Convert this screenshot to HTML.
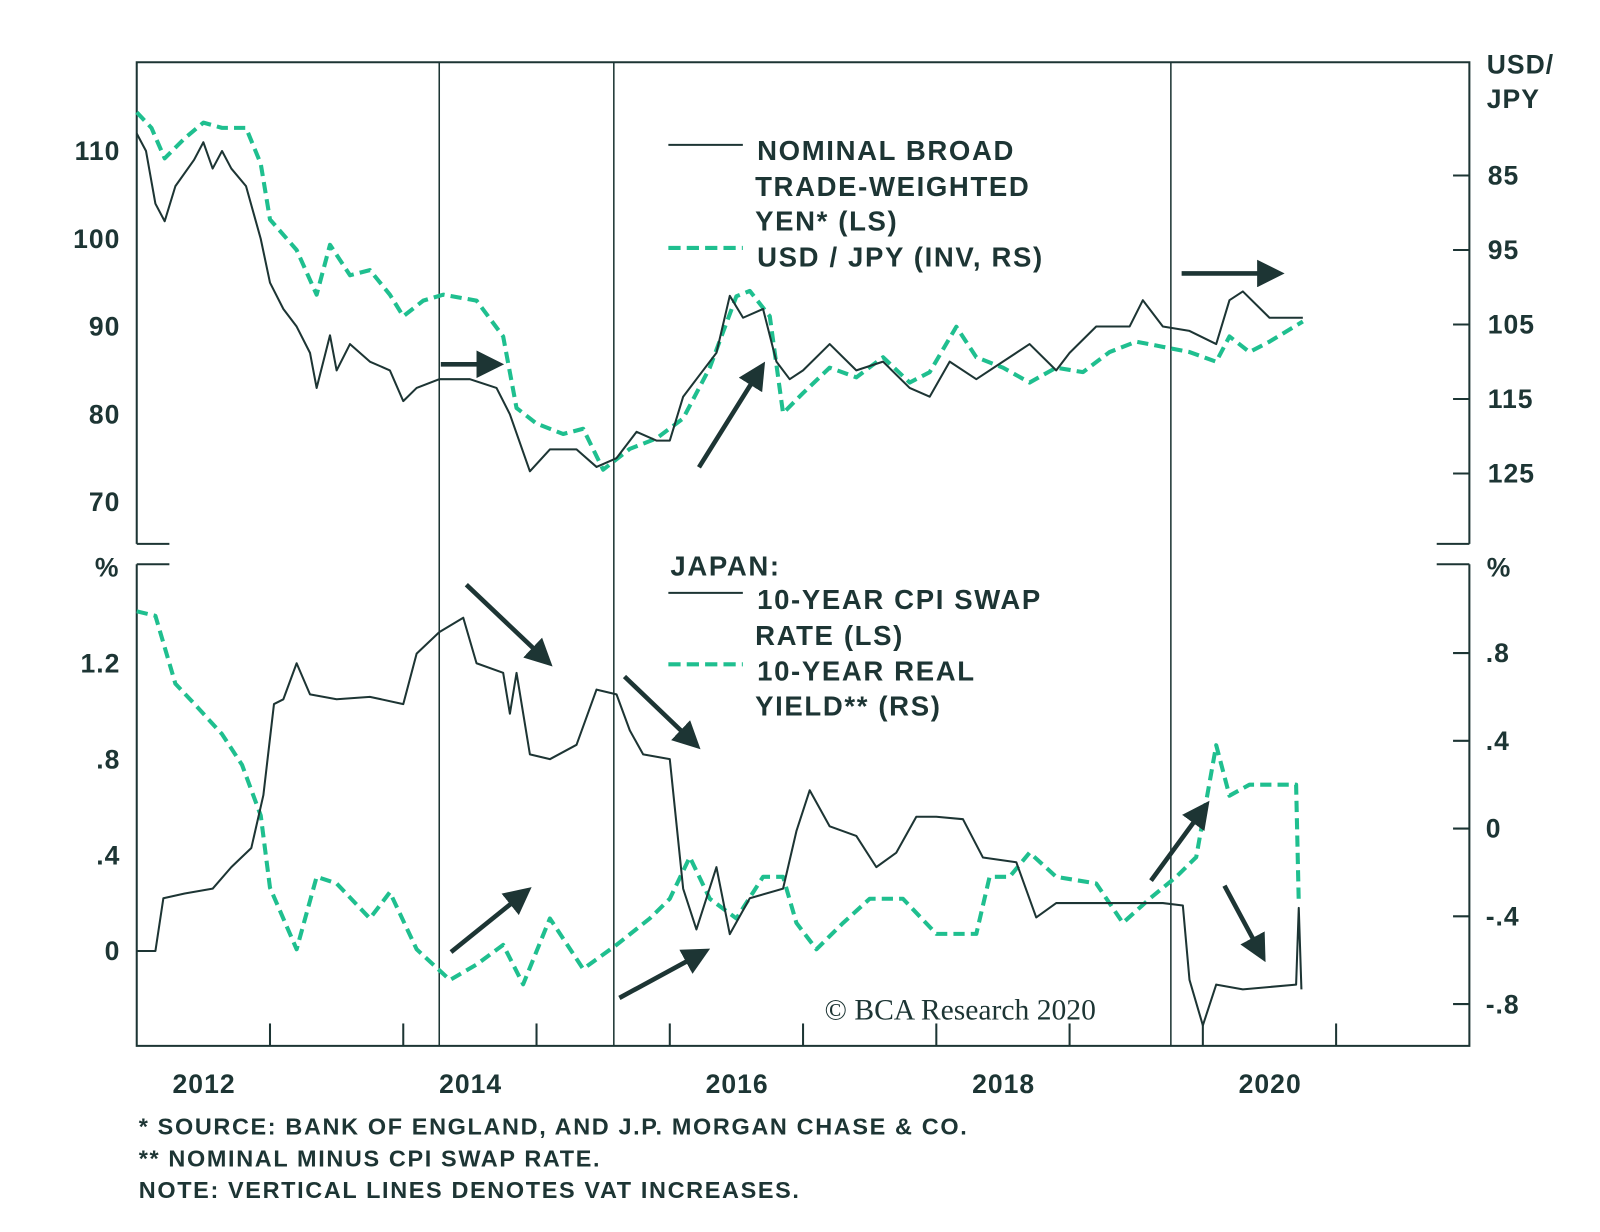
<!DOCTYPE html>
<html><head><meta charset="utf-8">
<style>
body{margin:0;background:#fff;}
svg{display:block;font-family:"Liberation Sans",sans-serif;}
.t{fill:#1d3534;font-weight:bold;font-size:26px;letter-spacing:1px;}
.lg{fill:#1d3534;font-weight:bold;font-size:27px;letter-spacing:1.6px;}
.n{fill:#1d3534;font-weight:bold;font-size:23px;letter-spacing:1.6px;}
</style></head>
<body>
<svg id="c" width="1600" height="1232" viewBox="0 0 1600 1232">
<defs><marker id="ah" markerWidth="6" markerHeight="6" refX="4" refY="3" orient="auto" markerUnits="strokeWidth"><path d="M0,0 L6,3 L0,6 Z" fill="#1d3534"/></marker></defs>
<g transform="scale(1.0204)">
<g id="frame" stroke="#1d3534" stroke-width="2" fill="none">
<path d="M134,533 V61 H1440 V533"/>
<path d="M134,533 H166 M1408,533 H1440"/>
<path d="M134,553 V1025 H1440 V553"/>
<path d="M134,553 H166 M1408,553 H1440"/>
</g>
<g id="axes"></g>
<g id="series"></g>
<g id="arrows" stroke="#1d3534" stroke-width="4.5" marker-end="url(#ah)">
<line x1="432" y1="357" x2="485" y2="357"/>
<line x1="685" y1="458" x2="745" y2="362"/>
<line x1="1158" y1="268" x2="1250" y2="268"/>
<line x1="457" y1="573" x2="535" y2="647"/>
<line x1="612" y1="663" x2="680" y2="728"/>
<line x1="442" y1="933" x2="514" y2="875"/>
<line x1="607" y1="978" x2="688" y2="934"/>
<line x1="1128" y1="863" x2="1180" y2="792"/>
<line x1="1200" y1="868" x2="1236" y2="935"/>
</g>
<g>
<line x1="655" y1="142" x2="728" y2="142" stroke="#1d3534" stroke-width="2"/>
<text class="lg" x="742" y="157">NOMINAL BROAD</text>
<text class="lg" x="740" y="192">TRADE-WEIGHTED</text>
<text class="lg" x="740" y="226">YEN* (LS)</text>
<line x1="655" y1="243" x2="728" y2="243" stroke="#1fbf8f" stroke-width="4" stroke-dasharray="12,6"/>
<text class="lg" x="742" y="261">USD / JPY (INV, RS)</text>
</g>
<g>
<text class="lg" x="657" y="564">JAPAN:</text>
<line x1="655" y1="581" x2="728" y2="581" stroke="#1d3534" stroke-width="2"/>
<text class="lg" x="742" y="597">10-YEAR CPI SWAP</text>
<text class="lg" x="740" y="632">RATE (LS)</text>
<line x1="655" y1="651" x2="728" y2="651" stroke="#1fbf8f" stroke-width="4" stroke-dasharray="12,6"/>
<text class="lg" x="742" y="667">10-YEAR REAL</text>
<text class="lg" x="740" y="701">YIELD** (RS)</text>
</g>
<text x="808" y="999" style="font-family:'Liberation Serif',serif;font-size:29px;fill:#1d3534">© BCA Research 2020</text>
<text class="t" x="1457" y="72">USD/</text>
<text class="t" x="1457" y="106">JPY</text>
<text class="t" x="93" y="565">%</text>
<text class="t" x="1457" y="565">%</text>
<g>
<text class="n" x="136" y="1112">*  SOURCE: BANK OF ENGLAND, AND J.P. MORGAN CHASE &amp; CO.</text>
<text class="n" x="136" y="1143">** NOMINAL MINUS CPI SWAP RATE.</text>
<text class="n" x="136" y="1174">NOTE: VERTICAL LINES DENOTES VAT INCREASES.</text>
</g>
</g>
</svg>
<script>
const NS="http://www.w3.org/2000/svg";
const leftTopTicks=[70,80,90,100,110];
const rightTopTicks=[85,95,105,115,125];
const leftBotTicks=[0,0.4,0.8,1.2];
const leftBotLabels=["0",".4",".8","1.2"];
const rightBotTicks=[-0.8,-0.4,0,0.4,0.8];
const rightBotLabels=["-.8","-.4","0",".4",".8"];
const yearLabels=[2012,2014,2016,2018,2020];
const vatDates=[2014.27,2015.58,2019.76];
const tradeT=[2012.0,2012.07,2012.14,2012.21,2012.29,2012.43,2012.5,2012.57,2012.64,2012.71,2012.82,2012.93,2013.0,2013.1,2013.2,2013.3,2013.35,2013.45,2013.5,2013.6,2013.75,2013.9,2014.0,2014.1,2014.27,2014.5,2014.7,2014.8,2014.95,2015.1,2015.3,2015.45,2015.6,2015.75,2015.9,2016.0,2016.1,2016.2,2016.35,2016.45,2016.55,2016.7,2016.8,2016.9,2017.0,2017.2,2017.4,2017.6,2017.8,2017.95,2018.1,2018.3,2018.5,2018.7,2018.9,2019.0,2019.2,2019.45,2019.55,2019.7,2019.9,2020.1,2020.2,2020.3,2020.5,2020.7,2020.75];
const tradeV=[112,110,104,102,106,109,111,108,110,108,106,100,95,92,90,87,83,89,85,88,86,85,81.5,83,84,84,83,80,73.5,76,76,74,75,78,77,77,82,84,87,93.5,91,92,86,84,85,88,85,86,83,82,86,84,86,88,85,87,90,90,93,90,89.5,88,93,94,91,91,91];
const usdT=[2012.0,2012.11,2012.21,2012.36,2012.5,2012.64,2012.82,2012.93,2013.0,2013.2,2013.35,2013.45,2013.6,2013.75,2013.9,2014.0,2014.15,2014.3,2014.55,2014.75,2014.85,2015.0,2015.2,2015.35,2015.5,2015.7,2015.9,2016.1,2016.3,2016.5,2016.6,2016.75,2016.85,2017.0,2017.2,2017.4,2017.6,2017.8,2017.95,2018.15,2018.3,2018.5,2018.7,2018.9,2019.1,2019.3,2019.5,2019.7,2019.9,2020.1,2020.2,2020.35,2020.5,2020.75];
const usdV=[76.5,78.6,82.7,80,77.9,78.6,78.6,83.4,90.9,95,101,94.3,98.4,97.7,101,103.9,101.8,101,101.8,106.6,116.2,118.3,119.7,119,124.5,121.7,120.3,117.6,110.8,101.2,100.5,103.9,116.9,114.2,110.8,112.1,109.4,112.8,111.4,105.3,109.4,110.8,112.8,110.8,111.4,108.7,107.3,108,108.7,110,106.6,108.7,107.3,104.6];
const swapT=[2012.0,2012.14,2012.2,2012.36,2012.57,2012.71,2012.86,2012.95,2013.03,2013.1,2013.2,2013.3,2013.5,2013.75,2014.0,2014.1,2014.27,2014.45,2014.55,2014.75,2014.8,2014.85,2014.95,2015.1,2015.3,2015.45,2015.6,2015.7,2015.8,2016.0,2016.1,2016.2,2016.35,2016.45,2016.6,2016.85,2016.95,2017.05,2017.2,2017.4,2017.55,2017.7,2017.85,2018.0,2018.2,2018.35,2018.6,2018.75,2018.9,2019.7,2019.85,2019.9,2020.0,2020.1,2020.3,2020.7,2020.72,2020.74];
const swapV=[0,0,0.22,0.24,0.26,0.35,0.43,0.65,1.03,1.05,1.2,1.07,1.05,1.06,1.03,1.24,1.33,1.39,1.2,1.16,0.99,1.16,0.82,0.8,0.86,1.09,1.07,0.92,0.82,0.8,0.26,0.09,0.35,0.07,0.22,0.26,0.5,0.67,0.52,0.48,0.35,0.41,0.56,0.56,0.55,0.39,0.37,0.14,0.2,0.2,0.19,-0.12,-0.31,-0.14,-0.16,-0.14,0.18,-0.16];
const realT=[2012.0,2012.14,2012.29,2012.43,2012.64,2012.79,2012.93,2013.0,2013.2,2013.35,2013.5,2013.75,2013.9,2014.1,2014.35,2014.55,2014.75,2014.9,2015.1,2015.35,2015.6,2015.85,2016.0,2016.15,2016.3,2016.5,2016.7,2016.85,2016.95,2017.1,2017.3,2017.5,2017.75,2018.0,2018.3,2018.4,2018.55,2018.7,2018.9,2019.2,2019.4,2019.6,2019.8,2019.95,2020.1,2020.2,2020.35,2020.6,2020.7,2020.72];
const realV=[0.99,0.97,0.66,0.57,0.43,0.29,0.06,-0.27,-0.55,-0.22,-0.25,-0.41,-0.29,-0.55,-0.69,-0.62,-0.53,-0.71,-0.41,-0.64,-0.53,-0.41,-0.32,-0.13,-0.32,-0.41,-0.22,-0.22,-0.43,-0.55,-0.43,-0.32,-0.32,-0.48,-0.48,-0.22,-0.22,-0.11,-0.22,-0.25,-0.43,-0.32,-0.22,-0.13,0.38,0.15,0.2,0.2,0.2,-0.34];

const X=t=>134+(t-2012)*130.6;
const yTL=v=>148-(v-110)*8.6;
const yTR=v=>172+(v-85)*7.3;
const yBL=v=>932-v*235;
const yBR=v=>812-v*215;
function el(tag,attrs,parent){const e=document.createElementNS(NS,tag);for(const k in attrs)e.setAttribute(k,attrs[k]);parent.appendChild(e);return e;}
const axes=document.getElementById('axes'),ser=document.getElementById('series');
function txt(x,y,s,anchor,name){const t=el('text',{x:x,y:y,class:'t','text-anchor':anchor},axes);t.textContent=s;

}
leftTopTicks.forEach(v=>txt(118,yTL(v)+9,String(v),'end','left-top-tick-label'));
rightTopTicks.forEach(v=>{txt(1458,yTR(v)+9,String(v),'start','right-top-tick-label');el('line',{x1:1424,x2:1440,y1:yTR(v),y2:yTR(v),stroke:'#1d3534','stroke-width':2},axes);});
leftBotTicks.forEach((v,i)=>txt(118,yBL(v)+9,leftBotLabels[i],'end','left-bottom-tick-label'));
rightBotTicks.forEach((v,i)=>{txt(1456,yBR(v)+9,rightBotLabels[i],'start','right-bottom-tick-label');el('line',{x1:1424,x2:1440,y1:yBR(v),y2:yBR(v),stroke:'#1d3534','stroke-width':2},axes);});
for(let y=2013;y<=2021;y++){el('line',{x1:X(y),x2:X(y),y1:1003,y2:1025,stroke:'#1d3534','stroke-width':2},axes);}
yearLabels.forEach(y=>txt(X(y)+66,1071,String(y),'middle','x-tick-label'));
vatDates.forEach(d=>{const l=el('line',{x1:X(d),x2:X(d),y1:61,y2:1025,stroke:'#1d3534','stroke-width':1.5},axes);

});
function line(T,V,fx,fy,color,dash,w,name){const d=T.map((t,i)=>(i?'L':'M')+fx(t).toFixed(1)+','+fy(V[i]).toFixed(1)).join(' ');
const p=el('path',{d:d,fill:'none',stroke:color,'stroke-width':w,'stroke-linejoin':'round'},ser);if(dash)p.setAttribute('stroke-dasharray',dash);

}
line(usdT,usdV,X,yTR,'#1fbf8f','11,6',4,'usd-jpy-line');
line(tradeT,tradeV,X,yTL,'#1d3534',null,2,'trade-weighted-yen-line');
line(realT,realV,X,yBR,'#1fbf8f','11,6',4,'real-yield-line');
line(swapT,swapV,X,yBL,'#1d3534',null,2,'cpi-swap-line');
</script>
</body></html>
